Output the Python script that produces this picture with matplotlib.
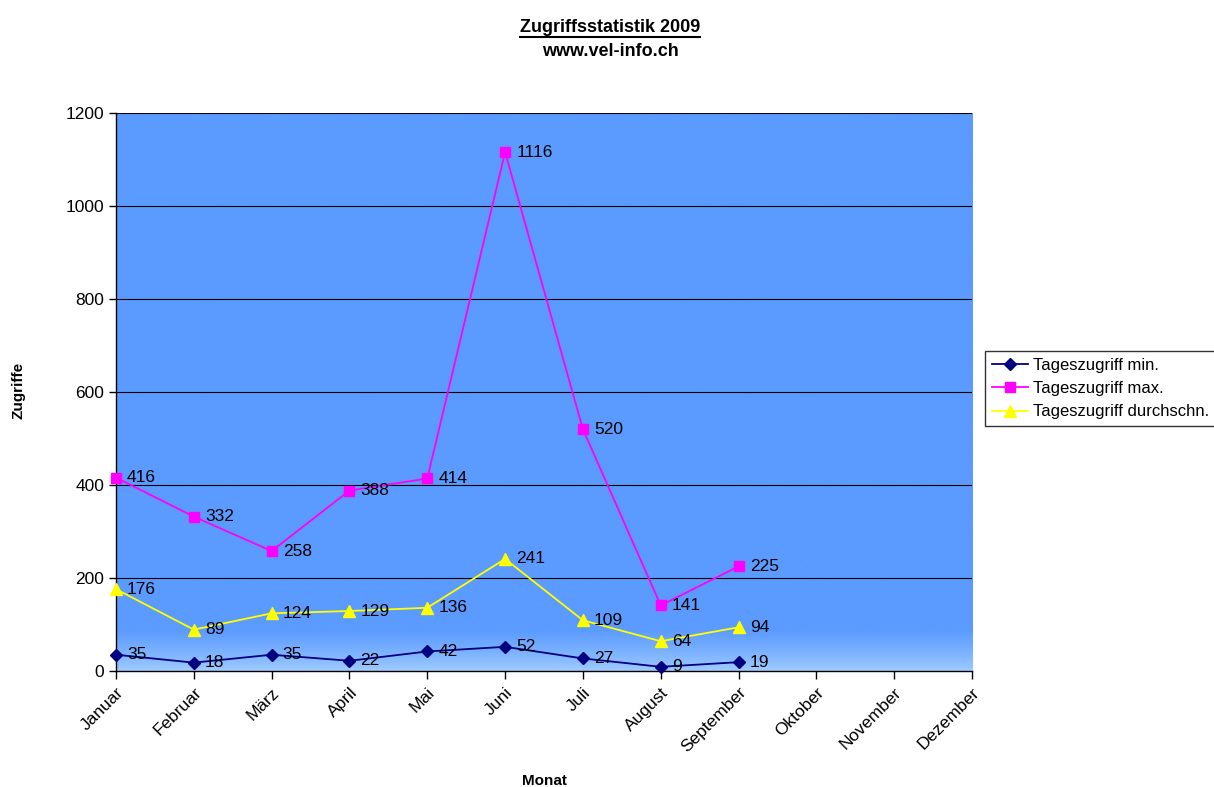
import numpy as np
import matplotlib
matplotlib.use('Agg')
import matplotlib.pyplot as plt
from matplotlib.lines import Line2D
from matplotlib.colors import LinearSegmentedColormap

plt.rcParams['font.family'] = ['Liberation Sans', 'DejaVu Sans']

months = ['Januar', 'Februar', 'März', 'April', 'Mai', 'Juni', 'Juli',
          'August', 'September', 'Oktober', 'November', 'Dezember']
tmin = [35, 18, 35, 22, 42, 52, 27, 9, 19]
tmax = [416, 332, 258, 388, 414, 1116, 520, 141, 225]
tavg = [176, 89, 124, 129, 136, 241, 109, 64, 94]

fig = plt.figure(figsize=(12.14, 7.87), dpi=100)
ax = fig.add_axes([116 / 1214, 1 - 671 / 787, (972 - 116) / 1214, (671 - 113) / 787])

# background: solid blue with lighter gradient near the bottom
grad = np.ones((400, 1))
n = 30
grad[-n:, 0] = np.linspace(1, 0, n) ** 0.8
cmap = LinearSegmentedColormap.from_list('bg', ['#A0CCFF', '#5B9BFF'])
ax.imshow(grad, cmap=cmap, aspect='auto', extent=[0, 11, 0, 1200],
          origin='upper', zorder=0, interpolation='bilinear')

x = np.arange(len(months))
ax.set_xlim(0, 11)
ax.set_ylim(0, 1200)
ax.set_yticks(range(0, 1201, 200))
for yv in range(200, 1201, 200):
    ax.axhline(yv, color='black', lw=0.8, zorder=1)

series = [
    (tmin, 'Tageszugriff min.', '#000080', 'D', 6),
    (tmax, 'Tageszugriff max.', '#FF00FF', 's', 7),
    (tavg, 'Tageszugriff durchschn.', '#FFFF00', '^', 8),
]
for vals, lab, col, mk, ms in series:
    xs = x[:len(vals)]
    ax.plot(xs, vals, color=col, marker=mk, markersize=ms, lw=1.3,
            label=lab, zorder=3, clip_on=False)
    for xi, v in zip(xs, vals):
        ax.annotate(str(v), (xi, v), xytext=(8, 0), textcoords='offset points',
                    ha='left', va='center', fontsize=12.5, zorder=4)

ax.set_xticks(x)
ax.set_xticklabels(months, rotation=45, ha='right', rotation_mode='anchor',
                   fontsize=12.5)
ax.tick_params(axis='x', length=6, width=1, pad=4)
ax.tick_params(axis='y', length=5, width=1, labelsize=12.5)
for s in ['top', 'right']:
    ax.spines[s].set_visible(False)
ax.spines['left'].set_linewidth(1)
ax.spines['bottom'].set_linewidth(1)

fig.text(18 / 1214, 1 - 390 / 787, 'Zugriffe', rotation=90, ha='center',
         va='center', fontsize=11, fontweight='bold')
fig.text(544 / 1214, 1 - 781 / 787, 'Monat', ha='center', va='center',
         fontsize=11, fontweight='bold')

t1 = fig.text(610 / 1214, 1 - 27 / 787, 'Zugriffsstatistik 2009', ha='center',
              va='center', fontsize=13, fontweight='bold')
fig.text(610 / 1214, 1 - 51 / 787, 'www.vel-info.ch', ha='center',
         va='center', fontsize=13, fontweight='bold')

leg = fig.legend(loc='upper left', bbox_to_anchor=(985 / 1214, 1 - 351 / 787),
                 fontsize=12, frameon=True, fancybox=False, edgecolor='black',
                 borderpad=0.4, handlelength=2.2, labelspacing=0.5,
                 handletextpad=0.3, borderaxespad=0)
leg.get_frame().set_linewidth(1)

# underline the title
fig.canvas.draw()
bb = t1.get_window_extent()
fig.add_artist(Line2D([bb.x0 / 1214, bb.x1 / 1214],
                      [(bb.y0 - 1) / 787, (bb.y0 - 1) / 787],
                      transform=fig.transFigure, color='black', lw=1.5))

fig.savefig('out.png', dpi=100)
